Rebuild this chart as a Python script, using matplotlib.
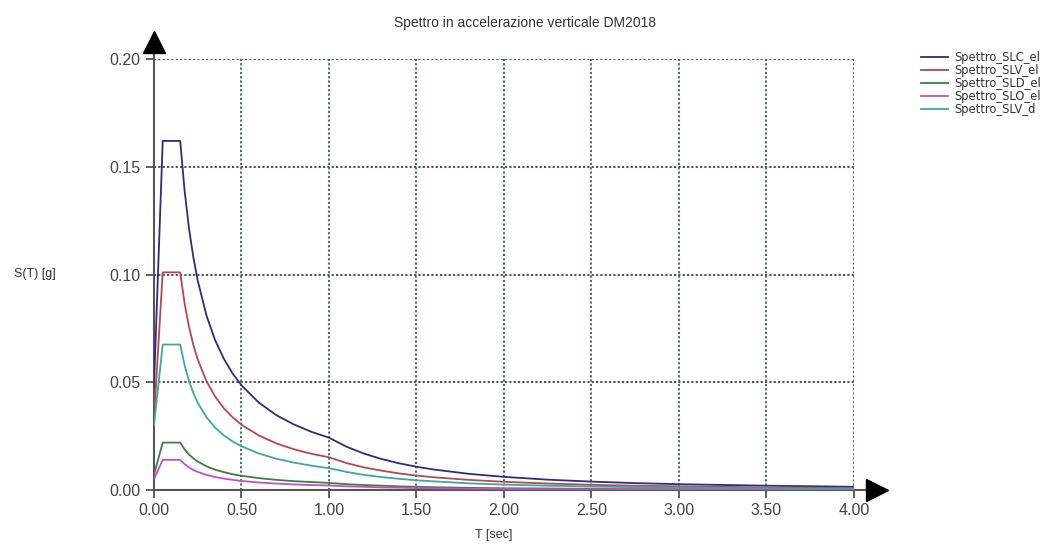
import matplotlib
matplotlib.use("Agg")
import matplotlib.pyplot as plt

plt.rcParams['font.family'] = ['Liberation Sans', 'DejaVu Sans']

# periods [sec]
T = [0.0, 0.05, 0.15, 0.175, 0.2, 0.225, 0.25, 0.3, 0.35, 0.4, 0.45, 0.5,
     0.6, 0.7, 0.8, 0.9, 1.0, 1.1, 1.2, 1.3, 1.4, 1.5, 1.6, 1.8, 2.0,
     2.25, 2.5, 2.75, 3.0, 3.5, 4.0]

# spectral acceleration [g]
slc_el = [0.048, 0.162, 0.162, 0.1389, 0.1215, 0.108, 0.0972, 0.081, 0.0694, 0.0608, 0.054, 0.0486,
          0.0405, 0.0347, 0.0304, 0.027, 0.0243, 0.0201, 0.0169, 0.0144, 0.0124, 0.0108, 0.0095, 0.0075, 0.0061,
          0.0048, 0.0039, 0.0032, 0.0027, 0.0020, 0.0015]
slv_el = [0.033, 0.101, 0.101, 0.0866, 0.0758, 0.0673, 0.0606, 0.0505, 0.0433, 0.0379, 0.0337, 0.0303,
          0.0253, 0.0216, 0.0189, 0.0168, 0.0152, 0.0125, 0.0105, 0.0090, 0.0077, 0.0067, 0.0059, 0.0047, 0.0038,
          0.0030, 0.0024, 0.0020, 0.0017, 0.0012, 0.0009]
sld_el = [0.007, 0.022, 0.022, 0.0189, 0.0165, 0.0147, 0.0132, 0.011, 0.0094, 0.0083, 0.0073, 0.0066,
          0.0055, 0.0047, 0.0041, 0.0037, 0.0033, 0.0027, 0.0023, 0.0020, 0.0017, 0.0015, 0.0013, 0.0010, 0.0008,
          0.0007, 0.0005, 0.0004, 0.0004, 0.0003, 0.0002]
slo_el = [0.005, 0.014, 0.014, 0.012, 0.0105, 0.0093, 0.0084, 0.007, 0.006, 0.0053, 0.0047, 0.0042,
          0.0035, 0.003, 0.0026, 0.0023, 0.0021, 0.0017, 0.0015, 0.0012, 0.0011, 0.0009, 0.0008, 0.0006, 0.0005,
          0.0004, 0.0003, 0.0003, 0.0002, 0.0002, 0.0001]
slv_d = [0.030, 0.0675, 0.0675, 0.0579, 0.0506, 0.045, 0.0405, 0.0338, 0.0289, 0.0253, 0.0225, 0.0203,
         0.0169, 0.0145, 0.0127, 0.0113, 0.0101, 0.0084, 0.0070, 0.0060, 0.0052, 0.0045, 0.0040, 0.0031, 0.0025,
         0.0020, 0.0016, 0.0013, 0.0011, 0.0008, 0.0006]

series = [("Spettro_SLC_el", slc_el, "#2c2c82"),
          ("Spettro_SLV_el", slv_el, "#b8474c"),
          ("Spettro_SLD_el", sld_el, "#3b7f3f"),
          ("Spettro_SLO_el", slo_el, "#c24fc4"),
          ("Spettro_SLV_d", slv_d, "#3aa89a")]

xticks = [0.0, 0.5, 1.0, 1.5, 2.0, 2.5, 3.0, 3.5, 4.0]
yticks = [0.0, 0.05, 0.10, 0.15, 0.20]

fig = plt.figure(figsize=(10.56, 5.45), dpi=100)
ax = fig.add_axes([0.1458, 0.1009, 0.6629, 0.7908])

# dotted grid: horizontal navy, vertical green
for y in yticks[1:]:
    ax.axhline(y, color="#3a3a6e", ls=(0, (1.2, 1.2)), lw=1.3, zorder=1)
for x in xticks[1:]:
    ax.axvline(x, color="#2f6b4b", ls=(0, (1.2, 1.2)), lw=1.3, zorder=1)

for name, vals, col in series:
    ax.plot(T, vals, color=col, lw=1.3, label=name, zorder=3)

ax.set_xlim(0, 4.0)
ax.set_ylim(0, 0.20)
ax.set_xticks(xticks)
ax.set_yticks(yticks)
ax.set_xticklabels(["%.2f" % v for v in xticks])
ax.set_yticklabels(["%.2f" % v for v in yticks])
ax.tick_params(labelsize=11.5, colors="#444444", length=6, width=1.2)
ax.tick_params(axis="y", pad=4)
ax.tick_params(axis="x", pad=3)

for s in ("top", "right"):
    ax.spines[s].set_visible(False)
for s in ("left", "bottom"):
    ax.spines[s].set_color("#555555")
    ax.spines[s].set_linewidth(1.5)

# arrow heads on the axes
ax.plot([0, 0], [1.0, 1.03], color="#555555", lw=1.5, transform=ax.transAxes, clip_on=False)
ax.plot(0, 1.0406, marker="^", ms=16, color="black", transform=ax.transAxes, clip_on=False)
ax.plot([1.0, 1.02], [0, 0], color="#555555", lw=1.5, transform=ax.transAxes, clip_on=False)
ax.plot(1.033, 0, marker=">", ms=16, color="black", transform=ax.transAxes, clip_on=False)

ax.set_title("Spettro in accelerazione verticale DM2018", fontsize=10, color="#333333",
             x=0.53, pad=23)
ax.set_xlabel("T [sec]", fontsize=9, color="#333333")
ax.xaxis.set_label_coords(0.485, -0.09)
fig.text(0.033, 0.497, "S(T) [g]", fontsize=9, color="#333333", ha="center", va="center")

fig.legend(loc="upper left", bbox_to_anchor=(0.872, 0.906), frameon=False,
           prop={"family": "DejaVu Sans", "size": 8.3}, labelcolor="#333333",
           labelspacing=0.0, handlelength=2.4, handletextpad=0.5,
           borderpad=0, borderaxespad=0)

fig.savefig("out.png", dpi=100)
